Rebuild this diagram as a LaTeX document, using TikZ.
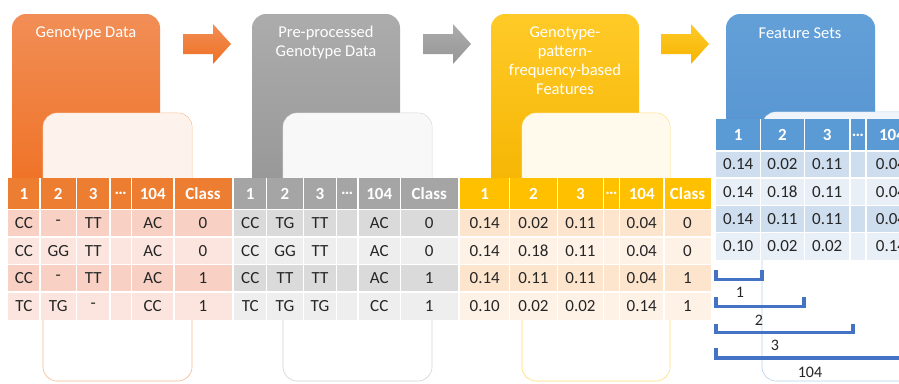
\documentclass[tikz,border=0pt]{standalone}
\usepackage{fontspec}
\setmainfont{Carlito}
\definecolor{or1}{RGB}{241,142,86}
\definecolor{or2}{RGB}{239,112,34}
\definecolor{gr1}{RGB}{172,172,172}
\definecolor{gr2}{RGB}{150,150,150}
\definecolor{yl1}{RGB}{255,202,40}
\definecolor{yl2}{RGB}{245,180,0}
\definecolor{bl1}{RGB}{99,160,216}
\definecolor{bl2}{RGB}{82,144,207}
\definecolor{orHd}{RGB}{237,125,49}
\definecolor{orA}{RGB}{248,208,196}
\definecolor{orB}{RGB}{252,229,222}
\definecolor{grHd}{RGB}{165,165,165}
\definecolor{grA}{RGB}{218,218,218}
\definecolor{grB}{RGB}{238,238,238}
\definecolor{ylHd}{RGB}{255,192,0}
\definecolor{ylA}{RGB}{252,228,205}
\definecolor{ylB}{RGB}{254,242,230}
\definecolor{blHd}{RGB}{91,155,213}
\definecolor{blA}{RGB}{207,222,238}
\definecolor{blB}{RGB}{232,239,247}
\definecolor{brk}{RGB}{68,114,196}
\begin{document}
\begin{tikzpicture}[x=1pt,y=-1pt,
  ttl/.style={text=white,align=center,font=\fontsize{16.5}{19}\selectfont},
  hd/.style={text=white,font=\fontsize{17}{19}\selectfont\bfseries},
  cell/.style={text=black!85,font=\fontsize{17}{19}\selectfont},
  sep/.style={white,line width=1.5pt},
  inner/.style={rounded corners=14pt,line width=0.6pt,fill=white},
  bkt/.style={brk,line width=3.2pt},
  lbl/.style={text=black!85,font=\fontsize{16}{18}\selectfont}]
\clip (0,0) rectangle (899,383);
% panels
\shade[top color=or1,bottom color=or2,rounded corners=14pt] (12,14) rectangle (160,200);
\node[ttl] (p1) at (86,33) {Genotype Data};
\draw[inner,draw=orHd!55] (43,113) rectangle (192,381);
\fill[orHd!9,rounded corners=14pt] (43.3,113.3) rectangle (191.7,200);
\shade[top color=gr1,bottom color=gr2,rounded corners=14pt] (252,14) rectangle (400,200);
\node[ttl] (p2) at (326,42.5) {Pre-processed\\Genotype Data};
\draw[inner,draw=grHd!50] (283,113) rectangle (432,381);
\fill[grHd!8,rounded corners=14pt] (283.3,113.3) rectangle (431.7,200);
\shade[top color=yl1,bottom color=yl2,rounded corners=14pt] (491,14) rectangle (639,200);
\node[ttl] (p3) at (565,61) {Genotype-\\pattern-\\frequency-based\\Features};
\draw[inner,draw=ylHd!55] (522,113) rectangle (670,381);
\fill[ylHd!8,rounded corners=14pt] (522.3,113.3) rectangle (669.7,200);
\shade[top color=bl1,bottom color=bl2,rounded corners=14pt] (726,14) rectangle (875,200);
\node[ttl] (p4) at (800,33) {Feature Sets};
\draw[inner,draw=blHd!45] (762,112) rectangle (940,381);
\fill[blHd!10,rounded corners=14pt] (762.3,112.3) rectangle (939.7,200);
% arrows
\foreach \dx/\ca/\cb in {0/or1/or2,240/gr1/gr2,478/yl1/yl2}
  \shade[top color=\ca,bottom color=\cb,shift={(\dx,0)}] (183,34) -- (213,34) -- (213,24)
    -- (231,44) -- (213,64) -- (213,54) -- (183,54) -- cycle;
% table 1
\fill[orHd] (8,178) rectangle (232,209.5);
\foreach \y/\cl in {209.5/orA,237/orB,264.5/orA,292/orB} \fill[\cl] (8,\y) rectangle (232,\y+27.5);
\foreach \x in {40,76.5,110,131.5,174} \draw[sep] (\x,178) -- (\x,319.5);
\foreach \y in {209.5,237,264.5,292} \draw[sep] (8,\y) -- (232,\y);
\foreach \x/\t [count=\i] in {24/1,58.25/2,93.25/3,120.75/…,152.75/104,203/Class}
  \node[hd] (a0-\i) at (\x,193.75) {\t};
\foreach \y/\p/\q/\u/\v/\w [count=\j] in {223.25/CC/-/TT/AC/0,250.75/CC/GG/TT/AC/0,
    278.25/CC/-/TT/AC/1,305.75/TC/TG/-/CC/1}{
  \node[cell] (a\j-1) at (24,\y) {\p};
  \node[cell] (a\j-2) at (58.25,\y) {\q};
  \node[cell] (a\j-3) at (93.25,\y) {\u};
  \node[cell] (a\j-5) at (152.75,\y) {\v};
  \node[cell] (a\j-6) at (203,\y) {\w};
}
% table 2
\fill[grHd] (234,178) rectangle (458,209.5);
\foreach \y/\cl in {209.5/grA,237/grB,264.5/grA,292/grB} \fill[\cl] (234,\y) rectangle (458,\y+27.5);
\foreach \x in {266.5,303.5,336.5,358,400.5} \draw[sep] (\x,178) -- (\x,319.5);
\foreach \y in {209.5,237,264.5,292} \draw[sep] (234,\y) -- (458,\y);
\foreach \x/\t [count=\i] in {250.25/1,285/2,320/3,347.25/…,379.25/104,429.25/Class}
  \node[hd] (b0-\i) at (\x,193.75) {\t};
\foreach \y/\p/\q/\u/\v/\w [count=\j] in {223.25/CC/TG/TT/AC/0,250.75/CC/GG/TT/AC/0,
    278.25/CC/TT/TT/AC/1,305.75/TC/TG/TG/CC/1}{
  \node[cell] (b\j-1) at (250.25,\y) {\p};
  \node[cell] (b\j-2) at (285,\y) {\q};
  \node[cell] (b\j-3) at (320,\y) {\u};
  \node[cell] (b\j-5) at (379.25,\y) {\v};
  \node[cell] (b\j-6) at (429.25,\y) {\w};
}
% table 3
\fill[ylHd] (460,178) rectangle (711,209.5);
\foreach \y/\cl in {209.5/ylA,237/ylB,264.5/ylA,292/ylB} \fill[\cl] (460,\y) rectangle (711,\y+27.5);
\foreach \x in {509.5,557.5,603.5,619.5,664} \draw[sep] (\x,178) -- (\x,319.5);
\foreach \y in {209.5,237,264.5,292} \draw[sep] (460,\y) -- (711,\y);
\foreach \x/\t [count=\i] in {484.75/1,533.5/2,580.5/3,611.5/…,641.75/104,687.5/Class}
  \node[hd] (c0-\i) at (\x,193.75) {\t};
\foreach \y/\p/\q/\u/\v/\w [count=\j] in {223.25/0.14/0.02/0.11/0.04/0,250.75/0.14/0.18/0.11/0.04/0,
    278.25/0.14/0.11/0.11/0.04/1,305.75/0.10/0.02/0.02/0.14/1}{
  \node[cell] (c\j-1) at (484.75,\y) {\p};
  \node[cell] (c\j-2) at (533.5,\y) {\q};
  \node[cell] (c\j-3) at (580.5,\y) {\u};
  \node[cell] (c\j-5) at (641.75,\y) {\v};
  \node[cell] (c\j-6) at (687.5,\y) {\w};
}
% table 4
\fill[blHd] (716,119) rectangle (920,151);
\foreach \y/\cl in {151/blA,178/blB,205.5/blA,232.5/blB} \fill[\cl] (716,\y) rectangle (920,\y+27.5);
\foreach \x in {760.5,804.5,850,866} \draw[sep] (\x,119) -- (\x,260);
\foreach \y in {151,178,205.5,232.5} \draw[sep] (716,\y) -- (920,\y);
\foreach \x/\t [count=\i] in {738.25/1,782.5/2,827.25/3,858/…,892/104}
  \node[hd] (d0-\i) at (\x,135) {\t};
\foreach \y/\p/\q/\u/\v [count=\j] in {164.5/0.14/0.02/0.11/0.04,192/0.14/0.18/0.11/0.04,
    219.5/0.14/0.11/0.11/0.04,246.5/0.10/0.02/0.02/0.14}{
  \node[cell] (d\j-1) at (738.25,\y) {\p};
  \node[cell] (d\j-2) at (782.5,\y) {\q};
  \node[cell] (d\j-3) at (827.25,\y) {\u};
  \node[cell] (d\j-5) at (891,\y) {\v};
}
% brackets
\draw[bkt] (716,270) -- (716,279.5) -- (762,279.5) -- (762,270);
\draw[bkt] (716,297) -- (716,306.5) -- (804,306.5) -- (804,297);
\draw[bkt] (716,324) -- (716,332.5) -- (853,332.5) -- (853,324);
\draw[bkt] (716,348) -- (716,358) -- (905,358);
\node[lbl] (k1) at (740,292) {1};
\node[lbl] (k2) at (759,320) {2};
\node[lbl] (k3) at (775,345) {3};
\node[lbl] (k4) at (810,372) {104};
\end{tikzpicture}
\end{document}
